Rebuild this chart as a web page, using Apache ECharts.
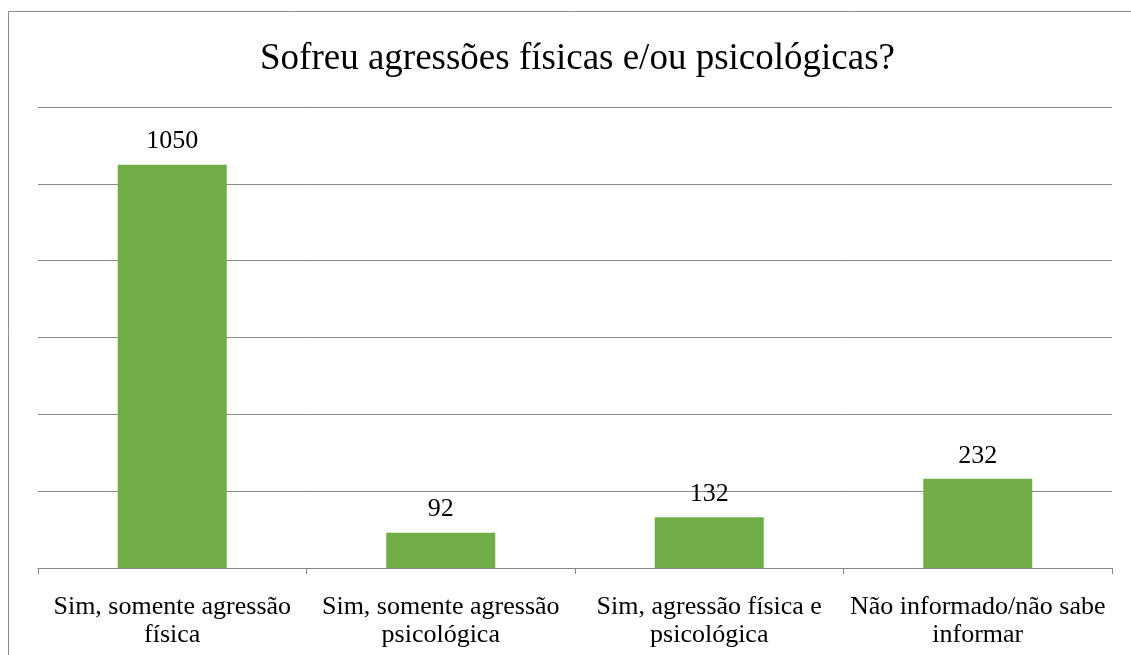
<!DOCTYPE html>
<html>
<head>
<meta charset="utf-8">
<script src="https://cdn.jsdelivr.net/npm/echarts@6/dist/echarts.min.js"></script>
<style>
  html, body { margin: 0; padding: 0; background: #ffffff; }
  #main { width: 1131px; height: 655px; }
</style>
</head>
<body>
<div id="main"></div>
<script>
var categories = [
    'Sim, somente agressão\nfísica',
    'Sim, somente agressão\npsicológica',
    'Sim, agressão física e\npsicológica',
    'Não informado/não sabe\ninformar'
];
var values = [1050, 92, 132, 232];
var titleText = 'Sofreu agressões físicas e/ou psicológicas?';

var myChart = echarts.init(document.getElementById('main'));
var option = {
    backgroundColor: '#ffffff',
    animation: false,
    title: {
        text: titleText,
        left: 255,
        top: 36,
        textStyle: {
            color: '#000000',
            fontFamily: '"Liberation Serif", "Times New Roman", serif',
            fontWeight: 'normal',
            fontSize: 37
        }
    },
    graphic: [
        {
            type: 'rect',
            silent: true,
            shape: { x: 8.5, y: 11.5, width: 1200, height: 700 },
            style: { fill: 'none', stroke: '#8c8c8c', lineWidth: 1 }
        }
    ],
    grid: {
        left: 38,
        right: 19,
        top: 107,
        bottom: 87
    },
    xAxis: {
        type: 'category',
        data: categories,
        axisLine: { lineStyle: { color: '#868686', width: 1 } },
        axisTick: { show: true, length: 6, lineStyle: { color: '#868686' } },
        axisLabel: {
            interval: 0,
            margin: 25,
            color: '#000000',
            fontFamily: '"Liberation Serif", "Times New Roman", serif',
            fontSize: 26,
            lineHeight: 28,
            align: 'center'
        }
    },
    yAxis: {
        type: 'value',
        min: 0,
        max: 1200,
        interval: 200,
        axisLabel: { show: false },
        axisLine: { show: false },
        axisTick: { show: false },
        splitLine: { lineStyle: { color: '#898989', width: 1 } }
    },
    series: [
        {
            type: 'bar',
            data: values,
            barWidth: 109,
            itemStyle: { color: '#70ad47' },
            label: {
                show: true,
                position: 'top',
                distance: 10,
                color: '#000000',
                fontFamily: '"Liberation Serif", "Times New Roman", serif',
                fontSize: 26
            }
        }
    ]
};
myChart.setOption(option);
</script>
</body>
</html>
